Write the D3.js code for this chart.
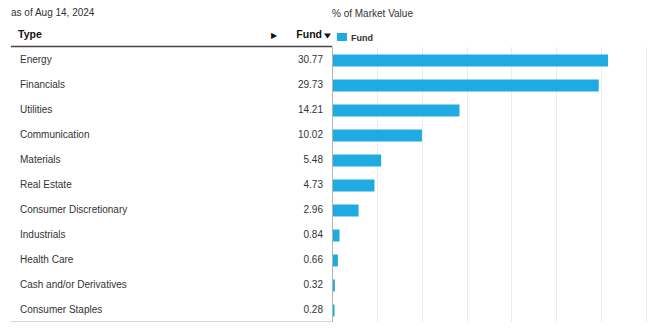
<!DOCTYPE html>
<html>
<head>
<meta charset="utf-8">
<script src="https://cdn.jsdelivr.net/npm/d3@7"></script>
<style>
  html, body { margin: 0; padding: 0; background: #fff; }
  svg { display: block; font-family: "Liberation Sans", Arial, sans-serif; }
</style>
</head>
<body>
<svg id="chart" width="663" height="333"></svg>
<script>
// Sector breakdown, % of market value
const categories = ["Energy", "Financials", "Utilities", "Communication", "Materials",
  "Real Estate", "Consumer Discretionary", "Industrials", "Health Care",
  "Cash and/or Derivatives", "Consumer Staples"];
const fundValues = [30.77, 29.73, 14.21, 10.02, 5.48, 4.73, 2.96, 0.84, 0.66, 0.32, 0.28];
const xTicks = [5, 10, 15, 20, 25, 30, 35];
const asOfLabel = "as of Aug 14, 2024";
const chartTitle = "% of Market Value";
const seriesName = "Fund";

const svg = d3.select("#chart");
const barColor = "#1fabe2";
const textColor = "#333";

const plotTop = 47, plotBottom = 322;
const x = d3.scaleLinear().domain([0, 35]).range([332, 646]);
const y = d3.scaleBand().domain(categories).range([plotTop + 1, plotBottom + 1])
  .paddingInner(0.52).paddingOuter(0.26);

// vertical gridlines
svg.append("g")
  .selectAll("line")
  .data(xTicks)
  .join("line")
  .attr("x1", d => Math.round(x(d)) + 0.5)
  .attr("x2", d => Math.round(x(d)) + 0.5)
  .attr("y1", plotTop)
  .attr("y2", plotBottom)
  .attr("stroke", "#ececec")
  .attr("stroke-width", 1);

// bars
svg.append("g")
  .selectAll("rect")
  .data(categories)
  .join("rect")
  .attr("x", x(0))
  .attr("y", d => y(d))
  .attr("width", (d, i) => x(fundValues[i]) - x(0))
  .attr("height", y.bandwidth())
  .attr("fill", barColor);

// table: header rule, bottom rule, right border / axis
svg.append("line").attr("x1", 11).attr("x2", 332).attr("y1", 46.5).attr("y2", 46.5)
  .attr("stroke", "#444").attr("stroke-width", 1.5);
svg.append("line").attr("x1", 11).attr("x2", 332).attr("y1", 321.5).attr("y2", 321.5)
  .attr("stroke", "#d6d6d6").attr("stroke-width", 1);
svg.append("line").attr("x1", 332.5).attr("x2", 332.5).attr("y1", 47).attr("y2", 322)
  .attr("stroke", "#b5b5b5").attr("stroke-width", 1);

// header texts
svg.append("text").attr("x", 11).attr("y", 16).attr("font-size", 10)
  .attr("fill", textColor).text(asOfLabel);
svg.append("text").attr("x", 332).attr("y", 17).attr("font-size", 10)
  .attr("fill", textColor).text(chartTitle);
svg.append("text").attr("x", 18).attr("y", 38).attr("font-size", 10.5)
  .attr("font-weight", "bold").attr("fill", "#111").text("Type");
svg.append("text").attr("x", 277).attr("y", 38).attr("font-size", 8)
  .attr("text-anchor", "end").attr("fill", "#111").text("\u25B6");
svg.append("text").attr("x", 322).attr("y", 38).attr("font-size", 10.5)
  .attr("font-weight", "bold").attr("text-anchor", "end").attr("fill", "#111")
  .text(seriesName);
// sort indicator
svg.append("path").attr("d", "M324,33.5 L331,33.5 L327.5,38.5 Z").attr("fill", "#111");

// legend
svg.append("rect").attr("x", 337).attr("y", 33).attr("width", 10).attr("height", 8)
  .attr("fill", barColor);
svg.append("text").attr("x", 351).attr("y", 40.5).attr("font-size", 9)
  .attr("font-weight", "bold").attr("fill", textColor).text(seriesName);

// row labels and values
const rows = svg.append("g");
rows.selectAll("text.cat")
  .data(categories)
  .join("text")
  .attr("class", "cat")
  .attr("x", 20)
  .attr("y", d => y(d) + y.bandwidth() / 2 + 2)
  .attr("font-size", 10)
  .attr("fill", textColor)
  .text(d => d);
rows.selectAll("text.val")
  .data(fundValues)
  .join("text")
  .attr("class", "val")
  .attr("x", 323)
  .attr("y", (d, i) => y(categories[i]) + y.bandwidth() / 2 + 2)
  .attr("font-size", 10)
  .attr("text-anchor", "end")
  .attr("fill", textColor)
  .text(d => d.toFixed(2));
</script>
</body>
</html>
